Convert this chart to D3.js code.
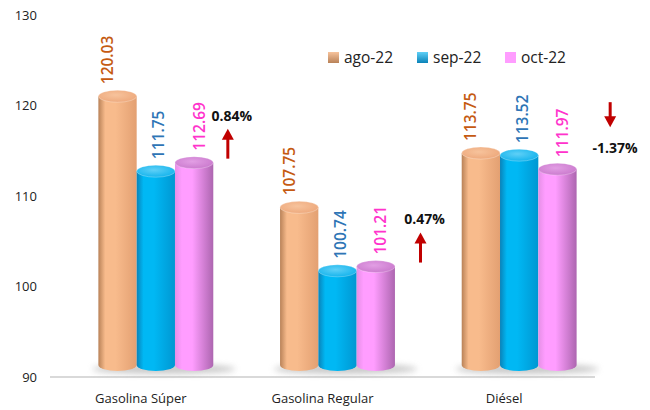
<!DOCTYPE html>
<html>
<head>
<meta charset="utf-8">
<script src="https://cdn.jsdelivr.net/npm/d3@7"></script>
<style>
  body { margin: 0; background: #fff; }
  text { font-family: "Open Sans", "Noto Sans", sans-serif; }
</style>
</head>
<body>
<div id="wrapper"></div>
<script>
// data
const categories = ["Gasolina Súper", "Gasolina Regular", "Diésel"]
const seriesNames = ["ago-22", "sep-22", "oct-22"]
const ago22 = [120.03, 107.75, 113.75]
const sep22 = [111.75, 100.74, 113.52]
const oct22 = [112.69, 101.21, 111.97]
const changeLabels = ["0.84%", "0.47%", "-1.37%"]
const changeDirection = ["up", "up", "down"]
const yTicks = [90, 100, 110, 120, 130]

const values = [ago22, sep22, oct22]

// 1. chart parameters
const dimensions = {
  width: 650,
  height: 410,
  margin: { top: 15, right: 55, bottom: 33, left: 50 },
}
dimensions.boundedWidth = dimensions.width - dimensions.margin.left - dimensions.margin.right
dimensions.boundedHeight = dimensions.height - dimensions.margin.top - dimensions.margin.bottom

// 3d look: bars pushed back a bit
const depthX = 15
const depthY = -9
const ry = 6

const colors = {
  "ago-22": { edgeL: "#b98258", mid: "#f8bb8c", edgeR: "#e3a072", top: "#eda77a", topHi: "#f7c39c", label: "#C55A11" },
  "sep-22": { edgeL: "#0a82b8", mid: "#00b8f4", edgeR: "#0097d2", top: "#10b2ec", topHi: "#5fd0f7", label: "#2E75B6" },
  "oct-22": { edgeL: "#e58fe6", mid: "#ff9dff", edgeR: "#ad66b0", top: "#c978cc", topHi: "#e29ee4", label: "#FF33CC" },
}

// 2. scales
const xScale = d3.scaleBand()
  .domain(categories)
  .range([0, dimensions.boundedWidth])

const barW = 38.3
const xSub = d3.scaleBand()
  .domain(seriesNames)
  .range([-barW * 1.5, barW * 1.5])

const yScale = d3.scaleLinear()
  .domain([90, 130])
  .range([dimensions.boundedHeight, 0])

// 4. svg
const wrapper = d3.select("#wrapper")
  .append("svg")
    .attr("width", dimensions.width)
    .attr("height", dimensions.height)

const defs = wrapper.append("defs")
seriesNames.forEach((s, i) => {
  const c = colors[s]
  const g = defs.append("linearGradient")
    .attr("id", "side" + i)
    .attr("x1", 0).attr("x2", 1).attr("y1", 0).attr("y2", 0)
  g.append("stop").attr("offset", "0%").attr("stop-color", c.edgeL)
  g.append("stop").attr("offset", "18%").attr("stop-color", c.mid)
  g.append("stop").attr("offset", "45%").attr("stop-color", c.mid)
  g.append("stop").attr("offset", "100%").attr("stop-color", c.edgeR)
  const t = defs.append("radialGradient")
    .attr("id", "top" + i)
    .attr("cx", "45%").attr("cy", "40%").attr("r", "65%")
  t.append("stop").attr("offset", "0%").attr("stop-color", c.topHi)
  t.append("stop").attr("offset", "100%").attr("stop-color", c.top)
  const lg = defs.append("linearGradient")
    .attr("id", "leg" + i)
    .attr("x1", 0).attr("x2", 0).attr("y1", 0).attr("y2", 1)
  lg.append("stop").attr("offset", "0%").attr("stop-color", c.topHi)
  lg.append("stop").attr("offset", "100%").attr("stop-color", c.edgeL)
})
defs.append("filter").attr("id", "blur")
  .attr("x", "-30%").attr("y", "-100%").attr("width", "160%").attr("height", "300%")
  .append("feGaussianBlur").attr("stdDeviation", 3)

const bounds = wrapper.append("g")
  .style("transform", `translate(${dimensions.margin.left}px, ${dimensions.margin.top}px)`)

// y tick labels (no visible axis line on the left)
bounds.append("g")
  .selectAll("text")
  .data(yTicks)
  .join("text")
    .attr("x", -13)
    .attr("y", d => yScale(d))
    .attr("dy", "0.35em")
    .attr("text-anchor", "end")
    .attr("font-size", 13)
    .attr("fill", "#222")
    .text(d => d)

// baseline
bounds.append("line")
  .attr("x1", 0)
  .attr("x2", dimensions.boundedWidth)
  .attr("y1", yScale(90))
  .attr("y2", yScale(90))
  .attr("stroke", "#d9d9d9")
  .attr("stroke-width", 2)

// category labels
bounds.append("g")
  .selectAll("text")
  .data(categories)
  .join("text")
    .attr("x", d => xScale(d) + xScale.bandwidth() / 2)
    .attr("y", dimensions.boundedHeight + 26)
    .attr("text-anchor", "middle")
    .attr("font-size", 13)
    .attr("fill", "#222")
    .text(d => d)

// bars
const groups = bounds.append("g")
  .selectAll("g")
  .data(categories)
  .join("g")
    .attr("transform", d => `translate(${xScale(d) + xScale.bandwidth() / 2 + depthX}, 0)`)

const baseY = yScale(90) + depthY - 3

// floor shadow per group
groups.append("ellipse")
  .attr("cx", 8)
  .attr("cy", baseY + 4)
  .attr("rx", barW * 1.5 + 14)
  .attr("ry", 5)
  .attr("fill", "#9a9a9a")
  .attr("opacity", 0.55)
  .attr("filter", "url(#blur)")

const bars = groups.selectAll("g.bar")
  .data((d, gi) => seriesNames.map((s, si) => ({ cat: d, s, si, v: values[si][gi] })))
  .join("g")
    .attr("class", "bar")

bars.append("path")
  .attr("d", d => {
    const x0 = xSub(d.s)
    const x1 = x0 + barW
    const rx = barW / 2
    const top = yScale(d.v) + depthY
    return `M${x0},${top} L${x0},${baseY} A${rx},${ry} 0 0 0 ${x1},${baseY} L${x1},${top} Z`
  })
  .attr("fill", d => `url(#side${d.si})`)

bars.append("ellipse")
  .attr("cx", d => xSub(d.s) + barW / 2)
  .attr("cy", d => yScale(d.v) + depthY)
  .attr("rx", barW / 2)
  .attr("ry", ry)
  .attr("fill", d => `url(#top${d.si})`)
  .attr("stroke", "rgba(255,255,255,0.35)")
  .attr("stroke-width", 0.8)

const labelShift = { "ago-22": -10, "sep-22": 3, "oct-22": 5 }

bars.append("text")
  .attr("transform", d => {
    const x = xSub(d.s) + barW / 2 + labelShift[d.s]
    const y = yScale(d.v) + depthY - ry - 6
    return `translate(${x}, ${y}) rotate(-90)`
  })
  .attr("dy", "0.35em")
  .attr("font-size", 15.5)
  .attr("font-weight", 600)
  .attr("fill", d => colors[d.s].label)
  .text(d => d3.format(".2f")(d.v))

// change annotations (arrow + percent)
const arrowColor = "#C00000"
const noteX = [87, 98, 106]
categories.forEach((cat, i) => {
  const cx = xScale(cat) + xScale.bandwidth() / 2 + noteX[i]
  const topOct = yScale(oct22[i]) + depthY
  const g = bounds.append("g")
  let tip, tail, textY
  if (changeDirection[i] === "up") {
    tail = topOct - 4
    tip = tail - 30
    textY = tip - 13
  } else {
    tip = topOct - 42
    tail = tip - 25
    textY = tip + 21
  }
  const dir = changeDirection[i] === "up" ? 1 : -1
  g.append("line")
    .attr("x1", cx).attr("x2", cx)
    .attr("y1", tail).attr("y2", tip + dir * 9)
    .attr("stroke", arrowColor)
    .attr("stroke-width", 3)
  g.append("path")
    .attr("d", `M${cx},${tip} L${cx - 6},${tip + dir * 11} L${cx + 6},${tip + dir * 11} Z`)
    .attr("fill", arrowColor)
  g.append("text")
    .attr("x", cx + (changeDirection[i] === "up" ? 4 : 5))
    .attr("y", textY)
    .attr("dy", "0.35em")
    .attr("text-anchor", "middle")
    .attr("font-size", 14)
    .attr("font-weight", 700)
    .attr("fill", "#111")
    .text(changeLabels[i])
})

// legend
const legendX = [328, 417, 505]
const legend = wrapper.append("g")
  .selectAll("g")
  .data(seriesNames)
  .join("g")
    .attr("transform", (d, i) => `translate(${legendX[i]}, 52)`)

legend.append("rect")
  .attr("width", 11)
  .attr("height", 11)
  .attr("fill", (d, i) => i === 2 ? colors[d].mid : `url(#leg${i})`)

legend.append("text")
  .attr("x", 16)
  .attr("y", 5.5)
  .attr("dy", "0.35em")
  .attr("font-size", 15.5)
  .attr("fill", "#222")
  .text(d => d)
</script>
</body>
</html>
